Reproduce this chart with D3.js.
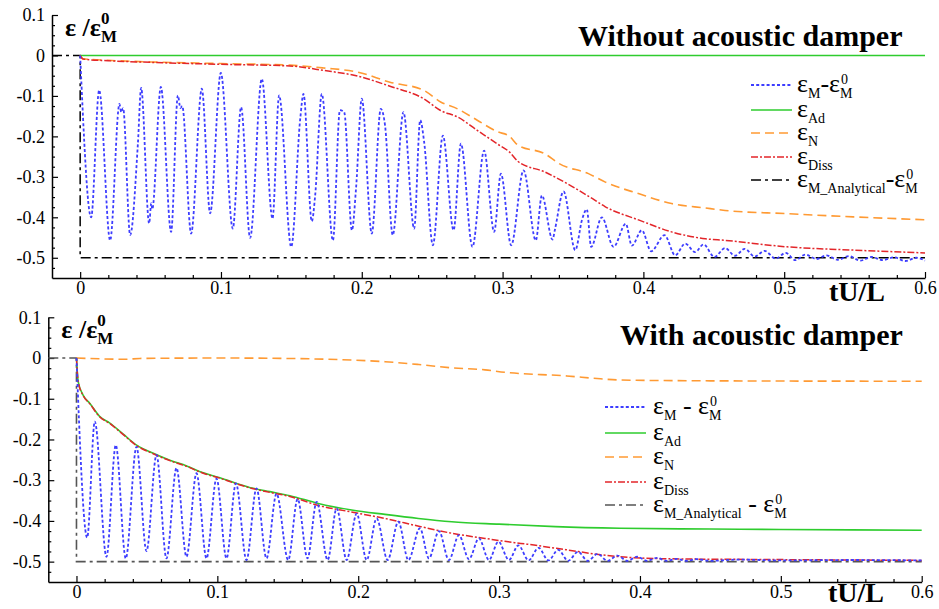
<!DOCTYPE html>
<html>
<head>
<meta charset="utf-8">
<script src="https://cdn.jsdelivr.net/npm/d3@7/dist/d3.min.js"></script>
<style>
  html, body { margin: 0; padding: 0; background: #fff; }
  svg { display: block; }
  text { font-family: "Liberation Serif", "Times New Roman", serif; fill: #000; }
</style>
</head>
<body>
<svg id="chart" width="939" height="609"></svg>
<script>
// ---------- data ----------
const xTicks = [0, 0.1, 0.2, 0.3, 0.4, 0.5, 0.6];
const yTicks = [0.1, 0, -0.1, -0.2, -0.3, -0.4, -0.5];

// Panel 1: without acoustic damper  ([tU/L, eps/eps0])
const topMech = [[0,0],[0.0078,-0.40],[0.0135,-0.086],[0.0213,-0.457],[0.0279,-0.12],[0.0292,-0.14],[0.0305,-0.13],
  [0.0355,-0.444],[0.041,-0.218],[0.0433,-0.08],[0.049,-0.415],[0.0505,-0.365],[0.0512,-0.38],[0.0573,-0.078],
  [0.0646,-0.436],[0.0694,-0.099],[0.0712,-0.13],[0.0725,-0.125],[0.0788,-0.44],[0.0864,-0.082],[0.0923,-0.39],
  [0.0999,-0.043],[0.1084,-0.428],[0.1143,-0.128],[0.1207,-0.451],[0.129,-0.058],[0.1366,-0.403],[0.1413,-0.099],
  [0.1499,-0.473],[0.1563,-0.156],[0.1586,-0.095],[0.1645,-0.41],[0.1669,-0.346],[0.1716,-0.095],[0.1795,-0.457],
  [0.1845,-0.135],[0.1875,-0.14],[0.193,-0.432],[0.196,-0.325],[0.2,-0.107],[0.2071,-0.44],[0.2135,-0.132],
  [0.2165,-0.172],[0.222,-0.444],[0.2296,-0.14],[0.2372,-0.428],[0.2415,-0.16],[0.2443,-0.214],[0.2505,-0.469],
  [0.2576,-0.198],[0.2652,-0.432],[0.2704,-0.218],[0.2786,-0.473],[0.2869,-0.235],[0.294,-0.436],[0.2988,-0.292],
  [0.3061,-0.469],[0.3149,-0.284],[0.3236,-0.457],[0.3279,-0.346],[0.3355,-0.455],[0.3372,-0.43],[0.3433,-0.336],
  [0.3516,-0.481],[0.3565,-0.405],[0.3598,-0.38],[0.3629,-0.473],[0.3705,-0.4],[0.3788,-0.473],[0.3875,-0.416],
  [0.3918,-0.47],[0.3989,-0.432],[0.4055,-0.484],[0.415,-0.444],[0.4226,-0.494],[0.4297,-0.465],[0.4368,-0.486],
  [0.4427,-0.467],[0.4505,-0.498],[0.458,-0.476],[0.465,-0.495],[0.472,-0.478],[0.479,-0.497],[0.486,-0.483],
  [0.494,-0.502],[0.501,-0.488],[0.508,-0.506],[0.515,-0.492],[0.523,-0.503],[0.53,-0.494],[0.538,-0.505],
  [0.546,-0.496],[0.554,-0.507],[0.562,-0.498],[0.57,-0.506],[0.578,-0.499],[0.586,-0.508],[0.594,-0.5],[0.6,-0.507]];
const topAd = [[0,0],[0.6,0]];
const topN = [[0,0],[0.002,-0.008],[0.02,-0.012],[0.05,-0.016],[0.1,-0.02],[0.149,-0.024],[0.173,-0.031],
  [0.197,-0.041],[0.22,-0.066],[0.244,-0.086],[0.256,-0.115],[0.268,-0.132],[0.282,-0.16],[0.296,-0.188],
  [0.305,-0.2],[0.311,-0.222],[0.33,-0.243],[0.34,-0.267],[0.361,-0.292],[0.373,-0.313],[0.397,-0.342],
  [0.42,-0.366],[0.444,-0.377],[0.458,-0.383],[0.502,-0.391],[0.549,-0.399],[0.6,-0.406]];
const topDiss = [[0,0],[0.002,-0.009],[0.02,-0.013],[0.05,-0.017],[0.1,-0.022],[0.149,-0.026],[0.173,-0.037],
  [0.197,-0.051],[0.22,-0.076],[0.244,-0.107],[0.256,-0.136],[0.268,-0.152],[0.282,-0.185],[0.296,-0.218],
  [0.305,-0.239],[0.311,-0.262],[0.33,-0.288],[0.346,-0.317],[0.362,-0.35],[0.373,-0.374],[0.397,-0.407],
  [0.42,-0.436],[0.444,-0.453],[0.458,-0.457],[0.502,-0.473],[0.549,-0.481],[0.6,-0.488]];
const topAnalytic = [[-0.02,0],[0,0],[0,-0.5],[0.6,-0.5]];

// Panel 2: with acoustic damper
const botMech = [[0,0],[0.0076,-0.441],[0.013,-0.156],[0.0213,-0.488],[0.0279,-0.214],[0.035,-0.492],
  [0.0426,-0.218],[0.0497,-0.474],[0.0568,-0.238],[0.0639,-0.492],[0.071,-0.27],[0.0781,-0.488],[0.0852,-0.283],
  [0.0923,-0.492],[0.0994,-0.296],[0.1065,-0.492],[0.1132,-0.308],[0.1207,-0.496],[0.1278,-0.32],[0.1349,-0.492],
  [0.142,-0.333],[0.1503,-0.496],[0.157,-0.346],[0.164,-0.492],[0.1705,-0.353],[0.1783,-0.496],[0.1847,-0.369],
  [0.1918,-0.496],[0.1989,-0.382],[0.206,-0.496],[0.2131,-0.394],[0.2209,-0.496],[0.2285,-0.402],[0.2356,-0.496],
  [0.2438,-0.418],[0.2502,-0.492],[0.2573,-0.425],[0.2644,-0.496],[0.2715,-0.435],[0.2786,-0.494],[0.2857,-0.443],
  [0.2928,-0.496],[0.2995,-0.451],[0.307,-0.496],[0.3137,-0.46],[0.321,-0.497],[0.328,-0.466],[0.335,-0.497],
  [0.342,-0.471],[0.349,-0.498],[0.356,-0.476],[0.363,-0.498],[0.37,-0.481],[0.377,-0.498],[0.384,-0.485],
  [0.391,-0.498],[0.398,-0.488],[0.405,-0.498],[0.412,-0.491],[0.419,-0.498],[0.426,-0.493],[0.433,-0.498],
  [0.44,-0.494],[0.45,-0.498],[0.47,-0.495],[0.5,-0.497],[0.55,-0.496],[0.6,-0.497]];
const botAd = [[0,0],[0.0012,-0.058],[0.0047,-0.091],[0.0094,-0.111],[0.0166,-0.144],[0.0237,-0.16],
  [0.0332,-0.187],[0.0427,-0.214],[0.0545,-0.234],[0.0663,-0.251],[0.0782,-0.265],[0.09,-0.282],[0.1018,-0.294],
  [0.1137,-0.308],[0.1255,-0.32],[0.1373,-0.328],[0.1515,-0.338],[0.1716,-0.357],[0.1953,-0.373],[0.219,-0.384],
  [0.2427,-0.394],[0.2664,-0.402],[0.3,-0.408],[0.34,-0.414],[0.386,-0.418],[0.45,-0.42],[0.5,-0.421],[0.6,-0.423]];
const botN = [[0,0],[0.035,-0.003],[0.045,-0.001],[0.1,0],[0.148,-0.001],[0.195,-0.005],[0.219,-0.009],
  [0.243,-0.016],[0.266,-0.024],[0.29,-0.029],[0.304,-0.035],[0.348,-0.044],[0.372,-0.051],[0.386,-0.054],
  [0.45,-0.056],[0.6,-0.057]];
const botDiss = [[0,0],[0.0012,-0.058],[0.0047,-0.092],[0.0094,-0.112],[0.0166,-0.145],[0.0237,-0.161],
  [0.0332,-0.188],[0.0427,-0.215],[0.0545,-0.235],[0.0663,-0.252],[0.0782,-0.266],[0.09,-0.283],[0.1018,-0.295],
  [0.1137,-0.309],[0.1255,-0.321],[0.1373,-0.33],[0.1515,-0.34],[0.1716,-0.362],[0.195,-0.378],[0.219,-0.394],
  [0.243,-0.413],[0.266,-0.43],[0.29,-0.443],[0.304,-0.45],[0.326,-0.46],[0.348,-0.471],[0.372,-0.483],
  [0.386,-0.488],[0.42,-0.493],[0.5,-0.495],[0.6,-0.497]];
const botAnalytic = [[-0.02,0],[0,0],[0,-0.5],[0.6,-0.5]];

// ---------- styles ----------
const FONT = '"Liberation Serif", "Times New Roman", serif';
const styles = {
  mech:     { stroke: "#3d3dff", width: 1.8, dash: "3,2.2" },
  ad:       { stroke: "#2ecc2e", width: 1.6, dash: null },
  n:        { stroke: "#ff9a33", width: 1.6, dash: "9,5" },
  diss:     { stroke: "#e3262a", width: 1.5, dash: "7,2,2,2" },
  analytic: { stroke: "#000000", width: 1.5, dash: "10,4,3,4" }
};

const svg = d3.select("#chart");

// lays out a run of text pieces with subscripts / superscripts (stacked when both given)
function richText(g, x, y, segs, o) {
  let cx = x;
  for (const s of segs) {
    if (s.t !== undefined) {
      const el = g.append("text").attr("x", cx).attr("y", y).attr("font-family", FONT)
        .style("font-size", o.big + "px").style("font-weight", o.weight || "normal").text(s.t);
      cx += el.node().getComputedTextLength();
    } else {
      let w = 0;
      if (s.sub !== undefined) {
        const el = g.append("text").attr("x", cx).attr("y", y + o.subDy).attr("font-family", FONT)
          .style("font-size", o.small + "px").style("font-weight", o.subWeight || o.weight || "normal").text(s.sub);
        w = Math.max(w, el.node().getComputedTextLength());
      }
      if (s.sup !== undefined) {
        const el = g.append("text").attr("x", cx + (o.supDx || 0)).attr("y", y - o.supDy).attr("font-family", FONT)
          .style("font-size", o.small + "px").style("font-weight", o.subWeight || o.weight || "normal").text(s.sup);
        w = Math.max(w, el.node().getComputedTextLength() + (o.supDx || 0));
      }
      cx += w;
    }
  }
  return cx;
}

function drawPanel(p) {
  const g = svg.append("g").attr("font-family", FONT);
  const x = d3.scaleLinear().domain([-0.02, 0.6]).range([p.x0, p.x1]);
  const y = d3.scaleLinear().domain([-0.55, 0.1]).range([p.yBottom, p.yTop]);

  const fmt = d => String(d);
  // minor ticks
  const xMinor = d3.range(0.02, 0.6, 0.02).filter(v => Math.abs(v * 10 - Math.round(v * 10)) > 1e-6);
  const yMinor = d3.range(-0.525, 0.1, 0.025).filter(v => Math.abs(v * 10 - Math.round(v * 10)) > 1e-6);

  g.append("g").attr("transform", `translate(0,${p.yBottom})`)
    .call(d3.axisBottom(x).tickValues(xMinor).tickSize(-3).tickSizeOuter(0).tickFormat(""))
    .call(a => a.select(".domain").remove());
  g.append("g").attr("transform", `translate(${p.x0},0)`)
    .call(d3.axisLeft(y).tickValues(yMinor).tickSize(-3).tickSizeOuter(0).tickFormat(""))
    .call(a => a.select(".domain").remove());

  const xa = g.append("g").attr("transform", `translate(0,${p.yBottom})`)
    .call(d3.axisBottom(x).tickValues(xTicks).tickSize(-6).tickSizeOuter(0).tickPadding(3).tickFormat(fmt));
  const ya = g.append("g").attr("transform", `translate(${p.x0},0)`)
    .call(d3.axisLeft(y).tickValues(yTicks).tickSize(-6).tickSizeOuter(0).tickPadding(7).tickFormat(fmt));
  [xa, ya].forEach(a => {
    a.attr("font-family", FONT).attr("font-size", 18);
    a.selectAll("text").style("font-family", FONT).style("font-size", "18px").attr("fill", "#000");
    a.select(".domain").attr("stroke", "#000").attr("stroke-width", 1.5);
  });
  g.selectAll(".tick line").attr("stroke", "#000").attr("stroke-width", 1.2);

  // curves
  const smooth = d3.line().x(d => x(d[0])).y(d => y(d[1])).curve(d3.curveMonotoneX);
  const straight = d3.line().x(d => x(d[0])).y(d => y(d[1]));
  const series = [
    { data: p.analytic, st: p.analyticStyle, gen: straight },
    { data: p.n, st: styles.n, gen: smooth },
    { data: p.ad, st: styles.ad, gen: smooth },
    { data: p.diss, st: styles.diss, gen: smooth },
    { data: p.mech, st: styles.mech, gen: smooth }
  ];
  for (const s of series) {
    g.append("path").attr("d", s.gen(s.data)).attr("fill", "none")
      .attr("stroke", s.st.stroke).attr("stroke-width", s.st.width)
      .attr("stroke-dasharray", s.st.dash);
  }

  // axis captions
  richText(g, p.x0 + 13, p.yTop + 21, [{ t: "ε /ε" }, { sub: "M", sup: "0" }],
    { big: 26, small: 17, subDy: 6, supDy: 12, weight: "bold" });
  g.append("text").attr("x", p.tuX).attr("y", p.tuY)
    .style("font-size", "28px").style("font-weight", "bold").text("tU/L");

  // title
  g.append("text").attr("x", p.titleX).attr("y", p.titleY)
    .style("font-size", p.titleSize + "px").style("font-weight", "bold").text(p.title);

  // legend
  const leg = g.append("g");
  const legendStyles = [styles.mech, styles.ad, styles.n, styles.diss, p.analyticStyle];
  p.legendRows.forEach((ry, i) => {
    const st = legendStyles[i];
    leg.append("line").attr("x1", p.legX1).attr("x2", p.legX2).attr("y1", ry).attr("y2", ry)
      .attr("stroke", st.stroke).attr("stroke-width", st.width).attr("stroke-dasharray", st.dash);
    richText(leg, p.legTextX, ry + 7, p.legendLabels[i], { big: 26, small: 14, subDy: 6, supDy: 8, supDx: 1 });
  });
}

const labelsTop = [
  [{ t: "ε" }, { sub: "M" }, { t: "-ε" }, { sub: "M", sup: "0" }],
  [{ t: "ε" }, { sub: "Ad" }],
  [{ t: "ε" }, { sub: "N" }],
  [{ t: "ε" }, { sub: "Diss" }],
  [{ t: "ε" }, { sub: "M_Analytical" }, { t: "-ε" }, { sub: "M", sup: "0" }]
];
const labelsBot = [
  [{ t: "ε" }, { sub: "M" }, { t: "\u00a0-\u00a0ε" }, { sub: "M", sup: "0" }],
  [{ t: "ε" }, { sub: "Ad" }],
  [{ t: "ε" }, { sub: "N" }],
  [{ t: "ε" }, { sub: "Diss" }],
  [{ t: "ε" }, { sub: "M_Analytical" }, { t: "\u00a0-\u00a0ε" }, { sub: "M", sup: "0" }]
];

drawPanel({
  x0: 52, x1: 925, yTop: 15, yBottom: 278,
  mech: topMech, ad: topAd, n: topN, diss: topDiss, analytic: topAnalytic,
  analyticStyle: styles.analytic,
  title: "Without acoustic damper", titleX: 578, titleY: 46, titleSize: 30,
  tuX: 829, tuY: 301,
  legX1: 751, legX2: 792, legTextX: 797, legendRows: [85, 110, 133, 157, 180], legendLabels: labelsTop
});
drawPanel({
  x0: 48.3, x1: 921.7, yTop: 317.3, yBottom: 582,
  mech: botMech, ad: botAd, n: botN, diss: botDiss, analytic: botAnalytic,
  analyticStyle: { stroke: "#555", width: 1.6, dash: "10,4,3,4" },
  title: "With acoustic damper", titleX: 620, titleY: 345, titleSize: 30,
  tuX: 828, tuY: 602,
  legX1: 605, legX2: 646, legTextX: 653, legendRows: [407, 433, 457, 482, 505], legendLabels: labelsBot
});
</script>
</body>
</html>
